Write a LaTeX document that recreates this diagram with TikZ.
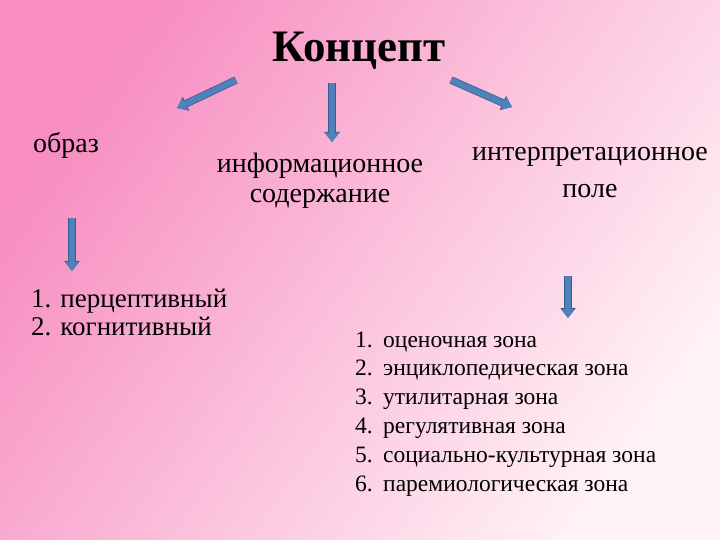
\documentclass[tikz,border=0pt]{standalone}
\usepackage{fontspec}
\setmainfont{Liberation Serif}
\usepackage{tikz}
\usetikzlibrary{positioning,arrows.meta}
\definecolor{cazul}{HTML}{4F81BD}
\definecolor{cborde}{HTML}{385D8A}
\definecolor{crosa}{HTML}{F78DC0}
\definecolor{cblanco}{HTML}{FFF2F6}
\tikzset{
  texto/.style={inner sep=0pt, align=center, font=\fontsize{28}{30}\selectfont},
  lista/.style={inner sep=0pt, align=left, font=\fontsize{23.5}{28.8}\selectfont},
  flecha/.style={line width=6pt, draw=cazul, -{Triangle[length=9pt,width=13pt]},
    preaction={draw=cborde, line width=7.5pt, -{Triangle[length=10pt,width=15pt]}}},
}
\newcommand{\num}[1]{\makebox[28pt][l]{#1}}

\begin{document}
\begin{tikzpicture}[x=1pt,y=-1pt]
  \useasboundingbox (0,0) rectangle (720,540);
  \shade[left color=crosa, right color=cblanco, shading angle=55] (0,0) rectangle (720,540);
  \node[inner sep=0pt, font=\fontsize{45}{50}\selectfont\bfseries, anchor=base] (con) at (359,62) {Концепт};
  \node[texto, anchor=base west] (obr) at (33,153) {образ};
  \node[texto, anchor=base] (inf) at (320,203) {информационное\\содержание};
  \node[texto, font=\fontsize{28}{36}\selectfont, anchor=base] (int) at (590,197) {интерпретационное\\поле};
  \node[lista, font=\fontsize{27}{28}\selectfont, anchor=base west] (lisa) at (31,335)
    {1. перцептивный\\2. когнитивный};
  \node[lista, anchor=base west] (lisb) at (355,491)
    {\num{1.}оценочная зона\\\num{2.}энциклопедическая зона\\\num{3.}утилитарная зона\\
     \num{4.}регулятивная зона\\\num{5.}социально-культурная зона\\\num{6.}паремиологическая зона};
  % flechas
  \coordinate (a1) at (236,80);  \coordinate (a2) at (177,108);
  \coordinate (b1) at (332,83);  \coordinate (b2) at (332,142);
  \coordinate (c1) at (451,80);  \coordinate (c2) at (512,107);
  \coordinate (d1) at (72,218);  \coordinate (d2) at (72,271);
  \coordinate (e1) at (568,276); \coordinate (e2) at (568,318);
  \draw[flecha] (a1) -- (a2);
  \draw[flecha] (b1) -- (b2);
  \draw[flecha] (c1) -- (c2);
  \draw[flecha] (d1) -- (d2);
  \draw[flecha] (e1) -- (e2);
\end{tikzpicture}
\end{document}
